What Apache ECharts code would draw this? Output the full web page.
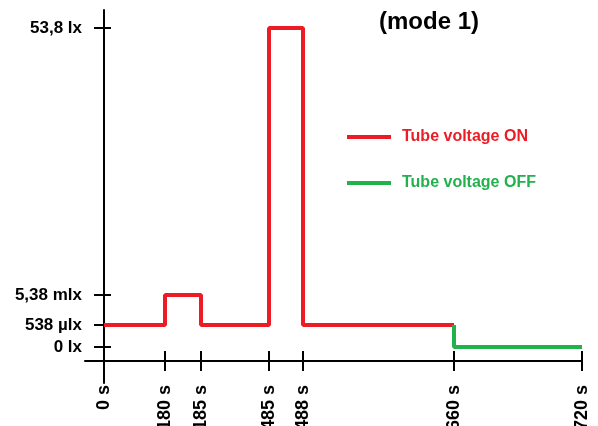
<!DOCTYPE html>
<html>
<head>
<meta charset="utf-8">
<script src="https://cdn.jsdelivr.net/npm/echarts@6/dist/echarts.min.js"></script>
<style>
  html, body { margin: 0; padding: 0; background: #fff; }
  #chart { width: 598px; height: 426px; }
</style>
</head>
<body>
<div id="chart"></div>
<script>
  // time ticks (s) and where they sit on the schematic (not to scale) axis
  var timeTicks = [0, 180, 185, 485, 488, 660, 720]
  var timeLabels = ['0 s', '180 s', '185 s', '485 s', '488 s', '660 s', '720 s']
  var timeAxisPos = [0, 61, 97, 165, 199, 350, 478]

  // illuminance levels (lx) and their place on the schematic axis
  var luxTicks = [0, 538e-6, 5.38e-3, 53.8]
  var luxLabels = ['0 lx', '538 µlx', '5,38 mlx', '53,8 lx']
  var luxAxisPos = [14, 36, 66, 333]

  // tube voltage ON
  var onTimes = [0, 180, 185, 485, 488, 660]
  var onLux = [538e-6, 5.38e-3, 538e-6, 53.8, 538e-6, 538e-6]
  // tube voltage OFF
  var offTimes = [660, 720]
  var offLux = [538e-6, 0]

  var RED = '#ED1C24'
  var GREEN = '#22B14C'
  var FONT = 'Liberation Sans'

  function xPos (t) { return timeAxisPos[timeTicks.indexOf(t)] }
  function yPos (v) { return luxAxisPos[luxTicks.indexOf(v)] }
  function toPoints (times, lux) {
    return times.map(function (t, i) { return [xPos(t), yPos(lux[i])] })
  }

  var xLabel = function (v) {
    var i = timeAxisPos.indexOf(v)
    return i < 0 ? '' : timeLabels[i]
  }
  var yLabel = function (v) {
    var i = luxAxisPos.indexOf(v)
    return i < 0 ? '' : luxLabels[i]
  }

  var axisLine = { onZero: true, lineStyle: { color: '#000', width: 2 } }

  var myChart = echarts.init(document.getElementById('chart'))
  var option = {
    animation: false,
    textStyle: { fontFamily: FONT },
    title: {
      text: '(mode 1)',
      left: 379,
      top: 10,
      padding: 0,
      textStyle: { fontFamily: FONT, fontSize: 24, fontWeight: 'bold', color: '#000' }
    },
    legend: {
      orient: 'vertical',
      left: 342,
      top: 124,
      itemWidth: 44,
      itemHeight: 4,
      itemGap: 30,
      textStyle: { fontFamily: FONT, fontSize: 16, fontWeight: 'bold', padding: [0, 0, 0, 6] },
      data: [
        { name: 'Tube voltage ON', icon: 'rect', textStyle: { color: RED } },
        { name: 'Tube voltage OFF', icon: 'rect', textStyle: { color: GREEN } }
      ]
    },
    grid: { left: 85, right: 16, top: 10, bottom: 43, containLabel: false, outerBoundsMode: 'none' },
    xAxis: [{
      type: 'value',
      position: 'bottom',
      min: -19,
      max: 478,
      axisLine: axisLine,
      splitLine: { show: false },
      axisTick: { show: true, customValues: timeAxisPos.slice(1), length: 10, lineStyle: { color: '#000', width: 2 } },
      axisLabel: {
        customValues: timeAxisPos,
        formatter: xLabel,
        rotate: 90,
        margin: 2,
        color: '#000',
        fontFamily: FONT,
        fontSize: 18,
        fontWeight: 'bold'
      }
    }, {
      type: 'value',
      position: 'bottom',
      min: -19,
      max: 478,
      axisLine: { show: false, onZero: true, onZeroAxisIndex: 0 },
      splitLine: { show: false },
      axisTick: { show: true, inside: true, customValues: timeAxisPos.slice(1), length: 10, lineStyle: { color: '#000', width: 2 } },
      axisLabel: { show: false }
    }],
    yAxis: [{
      type: 'value',
      position: 'left',
      min: -22,
      max: 351,
      axisLine: axisLine,
      splitLine: { show: false },
      axisTick: { show: true, customValues: luxAxisPos, length: 10, lineStyle: { color: '#000', width: 2 } },
      axisLabel: {
        customValues: luxAxisPos,
        formatter: yLabel,
        margin: 3,
        color: '#000',
        fontFamily: FONT,
        fontSize: 17,
        fontWeight: 'bold'
      }
    }, {
      type: 'value',
      position: 'left',
      min: -22,
      max: 351,
      axisLine: { show: false, onZero: true, onZeroAxisIndex: 0 },
      splitLine: { show: false },
      axisTick: { show: true, inside: true, customValues: luxAxisPos, length: 7, lineStyle: { color: '#000', width: 2 } },
      axisLabel: { show: false }
    }],
    series: [{
      name: 'Tube voltage ON',
      type: 'line',
      step: 'end',
      symbol: 'none',
      color: RED,
      lineStyle: { color: RED, width: 4 },
      data: toPoints(onTimes, onLux)
    }, {
      name: 'Tube voltage OFF',
      type: 'line',
      step: 'start',
      symbol: 'none',
      color: GREEN,
      lineStyle: { color: GREEN, width: 4 },
      data: toPoints(offTimes, offLux)
    }]
  }
  myChart.setOption(option)
</script>
</body>
</html>
